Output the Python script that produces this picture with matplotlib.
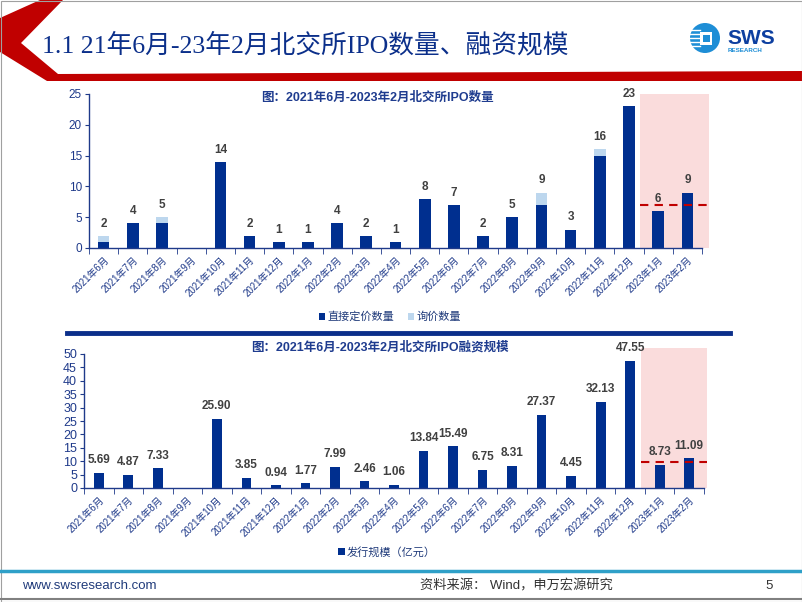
import numpy as np
import matplotlib
matplotlib.use('Agg')
import matplotlib.pyplot as plt
from matplotlib.patches import Polygon, Rectangle, Circle

plt.rcParams['font.family'] = ['Liberation Sans', 'Noto Sans CJK SC']

months = ['2021年6月', '2021年7月', '2021年8月', '2021年9月', '2021年10月', '2021年11月', '2021年12月',
          '2022年1月', '2022年2月', '2022年3月', '2022年4月', '2022年5月', '2022年6月', '2022年7月',
          '2022年8月', '2022年9月', '2022年10月', '2022年11月', '2022年12月', '2023年1月', '2023年2月']
direct = [1, 4, 4, 0, 14, 2, 1, 1, 4, 2, 1, 8, 7, 2, 5, 7, 3, 15, 23, 6, 9]
inquiry = [1, 0, 1, 0, 0, 0, 0, 0, 0, 0, 0, 0, 0, 0, 0, 2, 0, 1, 0, 0, 0]
funds = [5.69, 4.87, 7.33, 0, 25.90, 3.85, 0.94, 1.77, 7.99, 2.46, 1.06, 13.84, 15.49, 6.75,
         8.31, 27.37, 4.45, 32.13, 47.55, 8.73, 11.09]
ref_count = 6.9
ref_funds = 9.6

navy = '#1F3A8A'
bar_dark = '#002F8F'
bar_light = '#BDD7EE'
pink = '#FADCDC'
red = '#C00000'

fig = plt.figure(figsize=(8.02, 6.02), dpi=100)

# overlay in pixel coordinates for slide decoration
bg = fig.add_axes([0, 0, 1, 1])
bg.set_xlim(0, 802)
bg.set_ylim(602, 0)
bg.axis('off')
bg.set_zorder(0)

bg.add_patch(Polygon([(40, 0), (63, 0), (21, 43), (58, 74), (802, 71), (802, 81),
                      (47, 81), (0, 52), (0, 18)], closed=True, color=red, lw=0))
bg.add_patch(Rectangle((0.5, 0.5), 801, 601, fill=False, ec='#A0A0A0', lw=0.8))
bg.text(42, 45, '1.1 21年6月-23年2月北交所IPO数量、融资规模', fontsize=18.5,
        family=['Liberation Serif', 'Noto Sans CJK SC'], color='#0B2F8A', va='center', ha='left')

# logo
bg.add_patch(Circle((705, 38), 15, color='#1E8ED6', lw=0))
for yy in [30, 34, 38, 42, 46]:
    bg.plot([690, 700], [yy, yy], color='white', lw=1)
bg.add_patch(Rectangle((700, 32), 12, 13, color='white', lw=0))
bg.add_patch(Rectangle((703, 35), 7, 7, color='#1E8ED6', lw=0))
bg.text(727, 38, 'SWS', fontsize=15, fontweight='bold', color='#0D3FA0', va='center', ha='left')
bg.text(728, 51, 'RESEARCH', fontsize=4.5, fontweight='bold', color='#1E8ED6', va='center', ha='left')

# separator and footer
bg.plot([67, 730], [333, 333], color='#0B2F8A', lw=3.5)
bg.plot([0, 802], [571, 571], color='#2FA0C8', lw=2.5)
bg.plot([0, 802], [599, 599], color='#808080', lw=1.5)
bg.text(22, 586, 'www.swsresearch.com', fontsize=9.5, color='#1F3A7A', va='center')
bg.text(420, 586, '资料来源： Wind，申万宏源研究', fontsize=9.5, color='#333333', va='center')
bg.text(765, 586, '5', fontsize=9.5, color='#333333', va='center')

x = np.arange(len(months))


def style_axis(ax, ymax, step, ysize):
    ax.set_xlim(-0.5, len(months) - 0.5)
    ax.set_ylim(0, ymax)
    ax.set_yticks(np.arange(0, ymax + 1, step))
    for s in ['top', 'right']:
        ax.spines[s].set_visible(False)
    for s in ['left', 'bottom']:
        ax.spines[s].set_color(navy)
        ax.spines[s].set_linewidth(1)
    ax.set_xticks(x)
    ax.set_xticklabels(months, rotation=45, ha='right', va='top', rotation_mode='anchor',
                       fontsize=7, color=navy)
    ax.set_xticks(np.arange(-0.5, len(months)), minor=True)
    ax.tick_params(axis='x', which='major', length=0, pad=5)
    ax.tick_params(axis='x', which='minor', length=4, color=navy, direction='out')
    ax.tick_params(axis='y', length=3, color=navy, labelsize=ysize, labelcolor=navy, pad=2)
    ax.patch.set_alpha(0)


# top chart
ax1 = fig.add_axes([89 / 802, 1 - 248 / 602, 613 / 802, 154 / 602])
style_axis(ax1, 25, 5, 8.5)
ax1.add_patch(Rectangle((18.38, 0), 2.36, 25, color=pink, lw=0, clip_on=False, zorder=0))
ax1.bar(x, direct, width=0.4, color=bar_dark, label='直接定价数量', zorder=2)
ax1.bar(x, inquiry, width=0.4, bottom=direct, color=bar_light, label='询价数量', zorder=2)
ax1.plot([18.38, 20.74], [ref_count, ref_count], color=red, lw=1.5, ls=(0, (4, 3)),
         clip_on=False, zorder=3)
for i in range(len(months)):
    tot = direct[i] + inquiry[i]
    if tot > 0:
        ax1.text(x[i], tot + 1.0, str(tot), ha='center', va='bottom', fontsize=8.5,
                 fontweight='bold', color='#404040')
fig.text(377 / 802, 1 - 98 / 602, '图：2021年6月-2023年2月北交所IPO数量',
         fontsize=9, fontweight='bold', color='#1F3C8F', ha='center', va='center')
ax1.legend(loc='center', bbox_to_anchor=(390 / 802, 1 - 317 / 602), bbox_transform=fig.transFigure,
           ncol=2, frameon=False, fontsize=8, handlelength=0.6, handleheight=0.6,
           handletextpad=0.2, columnspacing=1.2, labelcolor='#1F3A7A')

# bottom chart
ax2 = fig.add_axes([84 / 802, 1 - 488 / 602, 620 / 802, 134 / 602])
style_axis(ax2, 50, 5, 9)
ax2.add_patch(Rectangle((18.36, 0), 2.23, 52.4, color=pink, lw=0, clip_on=False, zorder=0))
ax2.bar(x, funds, width=0.33, color=bar_dark, label='发行规模（亿元）', zorder=2)
ax2.plot([18.36, 20.59], [ref_funds, ref_funds], color=red, lw=1.5, ls=(0, (4, 3)),
         clip_on=False, zorder=3)
for i in range(len(months)):
    if funds[i] > 0:
        ax2.text(x[i], funds[i] + 2.5, '%.2f' % funds[i], ha='center', va='bottom', fontsize=8.5,
                 fontweight='bold', color='#404040')
fig.text(380 / 802, 1 - 347 / 602, '图：2021年6月-2023年2月北交所IPO融资规模',
         fontsize=9, fontweight='bold', color='#1F3C8F', ha='center', va='center')
ax2.legend(loc='center', bbox_to_anchor=(387 / 802, 1 - 552 / 602), bbox_transform=fig.transFigure,
           ncol=1, frameon=False, fontsize=8, handlelength=0.6, handleheight=0.6,
           handletextpad=0.2, labelcolor='#1F3A7A')

fig.savefig('out.png', dpi=100)
